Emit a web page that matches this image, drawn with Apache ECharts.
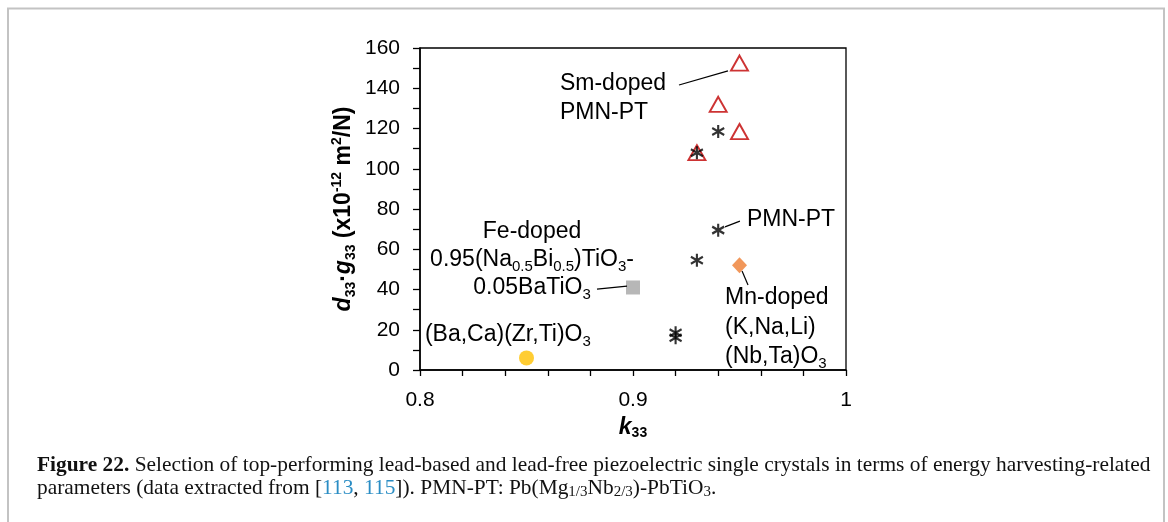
<!DOCTYPE html>
<html><head><meta charset="utf-8">
<script src="https://cdn.jsdelivr.net/npm/echarts@6/dist/echarts.min.js"></script>
<style>html,body{margin:0;padding:0;background:#fff}#c{width:1168px;height:522px}</style>
</head><body><div id="c"></div>
<script>
// ---- data ----
const smDoped = [[0.95, 152.5], [0.94, 132], [0.95, 118.5], [0.93, 108]];
const pmnPt = [[0.93, 108], [0.94, 118.5], [0.94, 69.5], [0.93, 54.5], [0.92, 18.5], [0.92, 16]];
const mnDoped = [[0.95, 52]];
const feDoped = [[0.90, 41]];
const bczt = [[0.85, 6]];

const xMin = 0.8, xMax = 1.0, xStep = 0.02, xLabelStep = 0.1;
const yMin = 0, yMax = 160, yStep = 10, yLabelStep = 20;

// annotation text lines: [text, dataX, dataY(center), align]
const annoLines = [
  ['Sm-doped', 0.8657, 142.1, 'left'],
  ['PMN-PT', 0.8657, 127.7, 'left'],
  ['PMN-PT', 0.9535, 74.5, 'left'],
  ['Fe-doped', 0.8526, 68.6, 'center'],
  ['0.95(Na{s|0.5}Bi{s|0.5})TiO{s|3}-', 0.8526, 54.7, 'center'],
  ['0.05BaTiO{s|3}', 0.8526, 40.7, 'center'],
  ['(Ba,Ca)(Zr,Ti)O{s|3}', 0.8023, 17.4, 'left'],
  ['Mn-doped', 0.9432, 35.8, 'left'],
  ['(K,Na,Li)', 0.9432, 20.9, 'left'],
  ['(Nb,Ta)O{s|3}', 0.9432, 6.5, 'left']
];
// leader lines in data coordinates
const leaders = [
  [[0.9216, 141.6], [0.9446, 148.6]],
  [[0.9432, 71.1], [0.9502, 74.0]],
  [[0.8831, 40.2], [0.8972, 41.7]],
  [[0.9512, 49.2], [0.9540, 42.2]]
];

const captionText =
  '{b|Figure 22.} Selection of top-performing lead-based and lead-free piezoelectric single crystals in terms of energy harvesting-related\n' +
  'parameters (data extracted from [{blue|113}, {blue|115}]). PMN-PT: Pb(Mg{sub|1/3}Nb{sub|2/3})-PbTiO{sub|3}.';

const chart = echarts.init(document.getElementById('c'), null, {renderer: 'canvas'});
const SANS = 'Liberation Sans, Arial, sans-serif';
const near = (v, s) => Math.abs(v / s - Math.round(v / s)) < 1e-6;

chart.setOption({
  backgroundColor: '#fff',
  animation: false,
  grid: {left: 420, top: 48, width: 426, height: 322, show: true, borderColor: '#000', borderWidth: 1.3, containLabel: false},
  xAxis: {
    type: 'value', min: xMin, max: xMax, interval: xStep,
    axisLine: {lineStyle: {color: '#000', width: 1.5}},
    axisTick: {show: true, length: 6, lineStyle: {color: '#000', width: 1.3}},
    splitLine: {show: false},
    axisLabel: {
      margin: 20, color: '#000', fontSize: 21, fontFamily: SANS,
      formatter: v => near(v, xLabelStep) ? String(Math.round(v * 10) / 10) : ''
    },
    name: '{k|k}{s|33}', nameLocation: 'middle', nameGap: 28,
    nameTextStyle: {
      rich: {
        k: {fontSize: 23, fontWeight: 'bold', fontStyle: 'italic', fontFamily: SANS, color: '#000', lineHeight: 26},
        s: {fontSize: 14, fontWeight: 'bold', fontFamily: SANS, color: '#000', lineHeight: 14, verticalAlign: 'bottom'}
      }
    }
  },
  yAxis: {
    type: 'value', min: yMin, max: yMax, interval: yStep,
    axisLine: {show: true, lineStyle: {color: '#000', width: 1.5}},
    axisTick: {show: true, length: 7, lineStyle: {color: '#000', width: 1.3}},
    splitLine: {show: false},
    axisLabel: {
      margin: 20, color: '#000', fontSize: 21, fontFamily: SANS,
      formatter: v => near(v, yLabelStep) ? String(Math.round(v)) : ''
    },
    name: '{i|d}{s|33}{n|·}{i|g}{s|33}{n| (x10}{p|-12}{n| m}{p|2}{n|/N)}',
    nameLocation: 'middle', nameGap: 62, nameRotate: 90,
    nameTextStyle: {
      rich: {
        i: {fontSize: 23, fontWeight: 'bold', fontStyle: 'italic', fontFamily: SANS, color: '#000', lineHeight: 28},
        n: {fontSize: 23, fontWeight: 'bold', fontFamily: SANS, color: '#000', lineHeight: 28},
        s: {fontSize: 14, fontWeight: 'bold', fontFamily: SANS, color: '#000', lineHeight: 14, verticalAlign: 'bottom'},
        p: {fontSize: 14, fontWeight: 'bold', fontFamily: SANS, color: '#000', lineHeight: 14, verticalAlign: 'top'}
      }
    }
  },
  series: [
    {name: 'Sm-doped PMN-PT', type: 'scatter', data: smDoped, symbol: 'triangle', symbolSize: [17, 15],
     itemStyle: {color: 'rgba(255,255,255,0)', borderColor: '#c00000', borderWidth: 1.9}, z: 2},
    {name: 'PMN-PT', type: 'scatter', data: pmnPt,
     symbol: 'path://M6,0L6,13M0,3L12,10M0,10L12,3', symbolSize: [12, 13],
     itemStyle: {color: 'rgba(0,0,0,0)', borderColor: '#000', borderWidth: 2.2}, z: 3},
    {name: 'Mn-doped KNLNT', type: 'scatter', data: mnDoped, symbol: 'diamond', symbolSize: [15, 16],
     itemStyle: {color: '#ed7d31'}, z: 2},
    {name: 'Fe-doped NBT-BT', type: 'scatter', data: feDoped, symbol: 'rect', symbolSize: 14,
     itemStyle: {color: '#a5a5a5'}, z: 2},
    {name: 'BCZT', type: 'scatter', data: bczt, symbol: 'circle', symbolSize: 15,
     itemStyle: {color: '#ffc000'}, z: 2}
  ]
});

function buildGraphic() {
  const g = [];
  // figure frame (top, left, right)
  g.push({type: 'polyline', silent: true, shape: {points: [[8, 522], [8, 8.5], [1164, 8.5], [1164, 522]]},
    style: {stroke: '#c3c3c3', lineWidth: 2, fill: null}});
  annoLines.forEach(([t, x, y, align]) => {
    const p = chart.convertToPixel({gridIndex: 0}, [x, y]);
    g.push({type: 'text', silent: true, x: p[0], y: p[1], z: 10,
      style: {text: '{n|' + t.replace(/\{s\|([^}]*)\}/g, '}{s|$1}{n|') + '}', align: align, verticalAlign: 'middle',
        rich: {
          n: {fontSize: 23, fontFamily: SANS, fill: '#000', lineHeight: 28},
          s: {fontSize: 15, fontFamily: SANS, fill: '#000', lineHeight: 15, verticalAlign: 'bottom'}
        }}});
  });
  leaders.forEach(([a, b]) => {
    const p1 = chart.convertToPixel({gridIndex: 0}, a);
    const p2 = chart.convertToPixel({gridIndex: 0}, b);
    g.push({type: 'line', silent: true, z: 10, shape: {x1: p1[0], y1: p1[1], x2: p2[0], y2: p2[1]},
      style: {stroke: '#000', lineWidth: 1.2}});
  });
  const SERIF = 'Liberation Serif, Times New Roman, serif';
  g.push({type: 'text', silent: true, x: 37, y: 454, z: 10,
    style: {text: '{r|' + captionText.replace(/\{(b|blue|sub)\|([^}]*)\}/g, '}{$1|$2}{r|').replace(/\n/g, '}\n{r|') + '}',
      align: 'left', verticalAlign: 'top',
      rich: {
        r: {fontSize: 21.4, fontFamily: SERIF, fill: '#111', lineHeight: 23},
        b: {fontSize: 21.4, fontFamily: SERIF, fontWeight: 'bold', fill: '#111', lineHeight: 23},
        blue: {fontSize: 21.4, fontFamily: SERIF, fill: '#2a8dc4', lineHeight: 23},
        sub: {fontSize: 15, fontFamily: SERIF, fill: '#111', lineHeight: 14, verticalAlign: 'bottom'}
      }}});
  return g;
}
chart.setOption({graphic: buildGraphic()});
</script></body></html>
